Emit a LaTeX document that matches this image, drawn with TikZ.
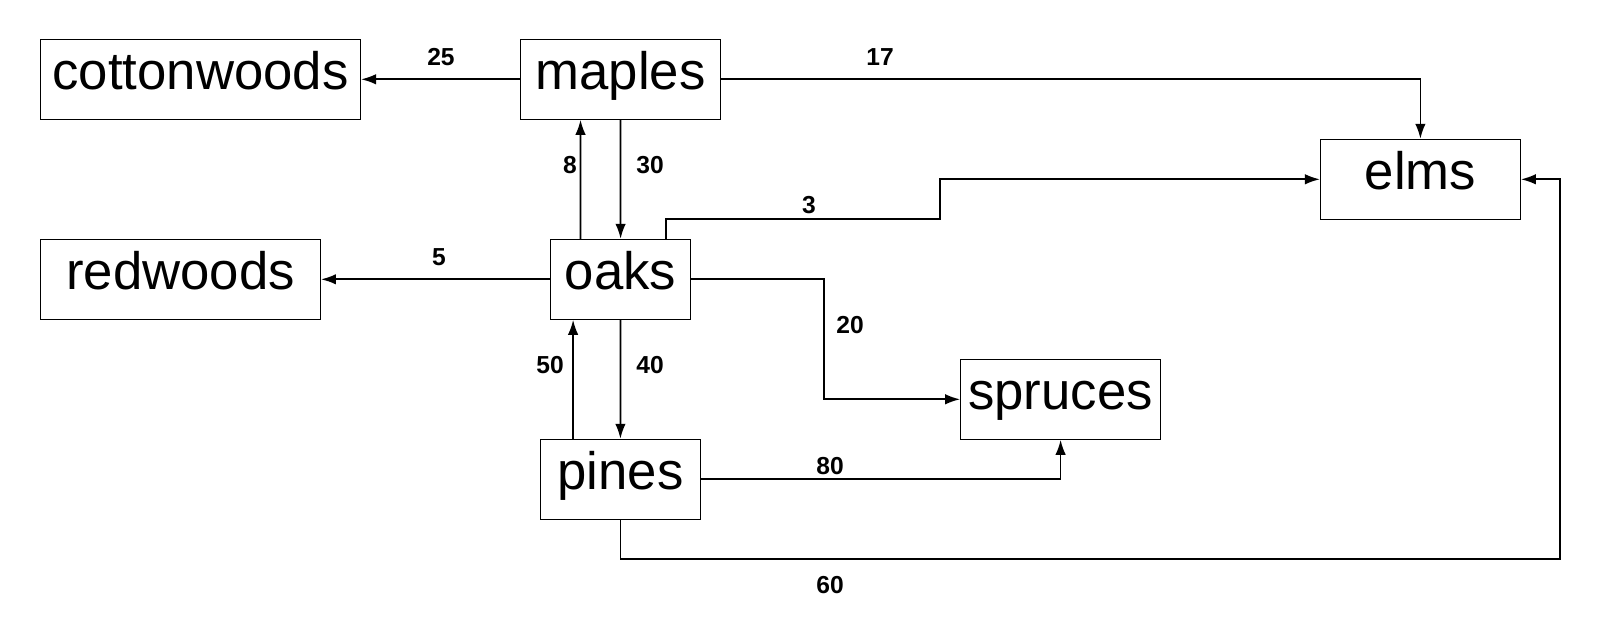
\documentclass[tikz,border=0pt]{standalone}
\usepackage{fontspec}
\setmainfont{Liberation Sans}
\usetikzlibrary{arrows.meta}
\usetikzlibrary{calc}

\begin{document}
\begin{tikzpicture}[x=0.02cm,y=-0.02cm,
        tree/.style={rectangle,draw,line width=0.6pt,minimum height=1.6cm,inner sep=0pt,
            text height=0.7cm,text depth=0.3cm,font=\fontsize{30}{36}\selectfont},
        flow/.style={line width=1pt,-{Latex[length=0.3cm,width=0.21cm]}},
        num/.style={font=\fontsize{14}{16}\selectfont\bfseries,inner sep=0pt}]
        \begin{scope}

            \useasboundingbox (0,0) rectangle (1610,626);

            % Trees
            \node[tree,minimum width=6.4cm] (cottonwoods) at (200.6,79.3) {cottonwoods};
            \node[tree,minimum width=4cm] (maples) at (620.5,79.3) {maples};
            \node[tree,minimum width=4cm] (elms) at (1420.4,179.3) {elms};
            \node[tree,minimum width=5.6cm] (redwoods) at (180.5,279.3) {redwoods};
            \node[tree,minimum width=2.8cm] (oaks) at (620.6,279.3) {oaks};
            \node[tree,minimum width=4cm] (spruces) at (1060.6,399.3) {spruces};
            \node[tree,minimum width=3.2cm] (pines) at (620.4,479.3) {pines};

            % Bends
            \coordinate (k3) at (940,219.3);
            \coordinate (k20) at (824.3,399.3);
            \coordinate (k60) at (1560,558.7);

            % From maples
            \draw[flow] (maples.west) -- (cottonwoods.east);
            \draw[flow] (maples.east) -| (elms.north);
            \draw[flow] (maples.south) -- (oaks.north);

            % From oaks
            \draw[flow] ([xshift=-0.8cm]oaks.north) -- ([xshift=-0.8cm]maples.south);
            \draw[flow] (oaks.west) -- (redwoods.east);
            \draw[flow] ([xshift=-0.5cm]oaks.north east) |- (k3) |- (elms.west);
            \draw[flow] (oaks.east) -| (k20) -- (spruces.west);
            \draw[flow] (oaks.south) -- (pines.north);

            % From pines
            \draw[flow] ([xshift=-0.95cm]pines.north) -- ([xshift=-0.95cm]oaks.south);
            \draw[flow] (pines.east) -| (spruces.south);
            \draw[flow] (pines.south) |- (k60) |- (elms.east);

            % Counts
            \node[num] (n25) at (441,57) {25};
            \node[num] (n17) at (880,57) {17};
            \node[num] (n8) at (570,165) {8};
            \node[num] (n30) at (650,165) {30};
            \node[num] (n3) at (809,205) {3};
            \node[num] (n5) at (439,257) {5};
            \node[num] (n20) at (850,325) {20};
            \node[num] (n50) at (550,365) {50};
            \node[num] (n40) at (650,365) {40};
            \node[num] (n80) at (830,466) {80};
            \node[num] (n60) at (830,585) {60};

        \end{scope}
    \end{tikzpicture}
\end{document}
